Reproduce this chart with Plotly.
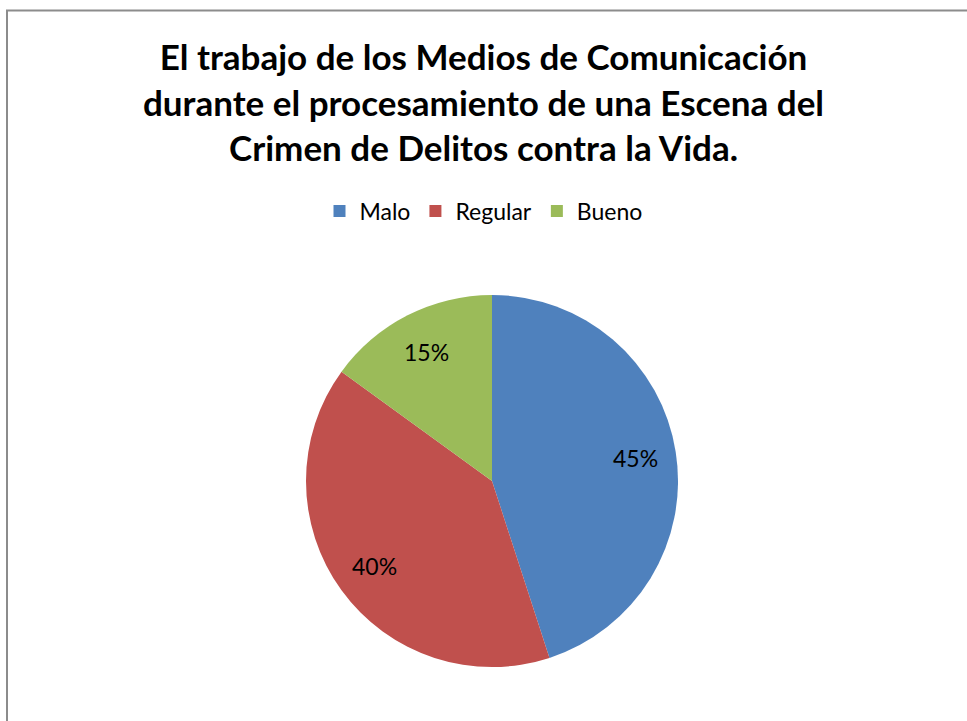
import math
import plotly.graph_objects as go

# data
labels = ["Malo", "Regular", "Bueno"]
values = [45, 40, 15]
colors = ["#4F81BD", "#C0504D", "#9BBB59"]

title_lines = [
    "El trabajo de los Medios de Comunicación",
    "durante el procesamiento de una Escena del",
    "Crimen de Delitos contra la Vida.",
]

W, H = 967, 721
cx, cy, r = 492, 481, 186

fig = go.Figure(go.Pie(
    labels=labels, values=values,
    marker=dict(colors=colors, line=dict(width=0)),
    sort=False, direction="clockwise", rotation=0,
    textinfo="none",
    hoverinfo="label+percent",
    domain=dict(x=[(cx - r) / W, (cx + r) / W],
                y=[(H - cy - r) / H, (H - cy + r) / H]),
))

# percent labels placed like Excel's best fit: ~0.78 r along each slice's mid-angle
total = sum(values)
start = 0.0
for v in values:
    mid = math.radians((start + v / 2) / total * 360)
    start += v
    d = 0.78 * r
    px_ = cx + d * math.sin(mid)
    py_ = cy - d * math.cos(mid)
    fig.add_annotation(
        x=px_ / W, y=(H - py_) / H, xref="paper", yref="paper",
        text=f"{round(100 * v / total)}%", showarrow=False,
        xanchor="center", yanchor="middle",
        font=dict(size=23, color="black", family="Lato"),
    )

fig.add_annotation(
    x=0.5, y=(H - 101) / H, xref="paper", yref="paper",
    text="<br>".join(title_lines), showarrow=False,
    xanchor="center", yanchor="middle", align="center",
    font=dict(size=35, family="Lato", weight="bold", color="black"),
)

fig.update_layout(
    width=W, height=H,
    margin=dict(l=0, r=0, t=0, b=0),
    paper_bgcolor="white",
    font=dict(family="Lato", color="black"),
    legend=dict(
        orientation="h", x=0.5, xanchor="center",
        y=(H - 211) / H, yanchor="middle",
        font=dict(size=23), itemwidth=30,
    ),
    shapes=[dict(
        type="rect", xref="paper", yref="paper",
        x0=7 / W, x1=1.05, y0=-0.05, y1=(H - 10.5) / H,
        line=dict(color="#8c8c8c", width=2), fillcolor="rgba(0,0,0,0)",
    )],
)

fig.write_html("out.html", config={"displayModeBar": False},
               post_script="document.body.style.margin='0';")
